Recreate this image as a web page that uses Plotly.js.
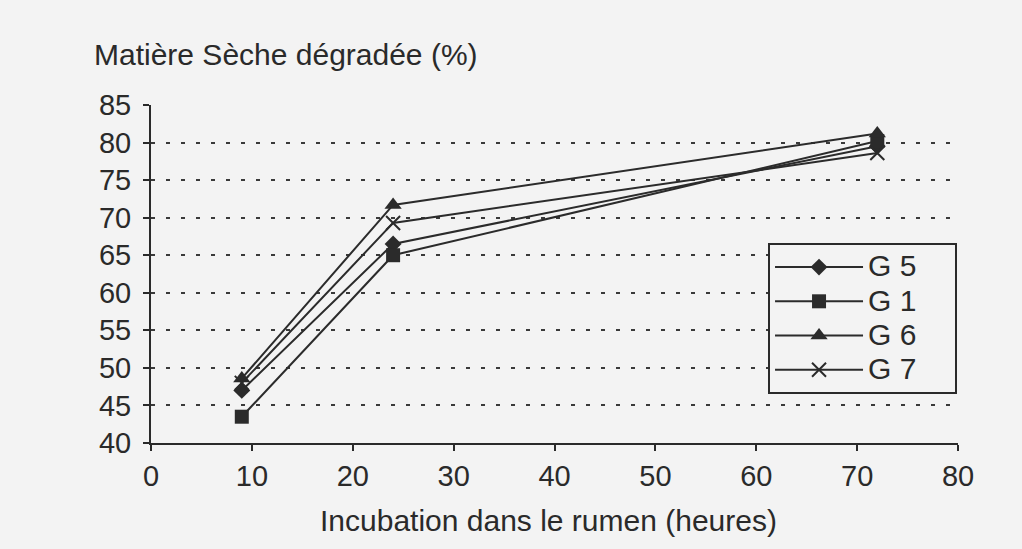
<!DOCTYPE html>
<html>
<head>
<meta charset="utf-8">
<script src="https://cdn.plot.ly/plotly-3.0.1.min.js"></script>
<style>
  html, body { margin: 0; padding: 0; background: #f3f3f3; }
  #chart { width: 1022px; height: 549px; }
</style>
</head>
<body>
<div id="chart"></div>
<script>
// Data
const hours = [9, 24, 72];
const seriesNames = ["G 5", "G 1", "G 6", "G 7"];
const g5 = [47.0, 66.5, 79.5];
const g1 = [43.5, 65.0, 80.2];
const g6 = [48.6, 71.7, 81.2];
const g7 = [48.0, 69.3, 78.6];
const yTicks = [40, 45, 50, 55, 60, 65, 70, 75, 80, 85];
const xTicks = [0, 10, 20, 30, 40, 50, 60, 70, 80];
const yTitle = "Matière Sèche dégradée (%)";
const xTitle = "Incubation dans le rumen (heures)";

const lineColor = "#2b2b2b";
const textColor = "#2a2a2a";
const font = "Liberation Sans, Arial, sans-serif";
const pad = "\u00a0".repeat(4);

function trace(name, y, symbol, size) {
  return {
    type: "scatter", mode: "lines+markers",
    name: "<span style='font-size:30px'>" + name + pad + "</span>",
    x: hours, y: y,
    line: { color: lineColor, width: 2 },
    marker: { symbol: symbol, size: size, color: lineColor,
              line: { color: lineColor, width: symbol.indexOf("x") === 0 ? 2 : 0 } }
  };
}

const data = [
  trace(seriesNames[0], g5, "diamond", 13),
  trace(seriesNames[1], g1, "square", 14),
  trace(seriesNames[2], g6, "triangle-up", 15),
  trace(seriesNames[3], g7, "x-thin-open", 14)
];

const layout = {
  width: 1022, height: 549,
  paper_bgcolor: "#f3f3f3", plot_bgcolor: "#f3f3f3",
  margin: { l: 151, r: 64, t: 105, b: 106 },
  font: { family: font, color: textColor, size: 30 },
  showlegend: true,
  legend: {
    x: 0.7646, y: 0.5917, xanchor: "left", yanchor: "top",
    bgcolor: "#f3f3f3", bordercolor: textColor, borderwidth: 2,
    font: { family: font, size: 24, color: textColor },
    itemwidth: 88
  },
  xaxis: {
    range: [0, 80], tickvals: xTicks, ticktext: xTicks.map(String),
    showgrid: false, zeroline: false,
    showline: true, linecolor: textColor, linewidth: 2,
    ticks: "outside", ticklen: 6, tickwidth: 2, tickcolor: textColor,
    tickfont: { family: font, size: 29, color: textColor }
  },
  yaxis: {
    range: [40, 85], tickvals: yTicks, ticktext: yTicks.map(String),
    showgrid: true, gridcolor: "#3a3a3a", gridwidth: 2, griddash: "4px,11px",
    zeroline: false,
    showline: true, linecolor: textColor, linewidth: 2,
    ticks: "outside", ticklen: 6, tickwidth: 2, tickcolor: textColor,
    tickfont: { family: font, size: 29, color: textColor },
    ticklabelstandoff: 6
  },
  annotations: [{
    text: yTitle, xref: "paper", yref: "paper",
    x: -0.073, y: 1.148, xanchor: "left", yanchor: "middle",
    showarrow: false, font: { family: font, size: 30, color: textColor }
  }, {
    text: xTitle, xref: "paper", yref: "paper",
    x: 0.492, y: -0.228, xanchor: "center", yanchor: "middle",
    showarrow: false, font: { family: font, size: 30, color: textColor }
  }]
};

Plotly.newPlot("chart", data, layout, { displayModeBar: false, staticPlot: true });
</script>
</body>
</html>
